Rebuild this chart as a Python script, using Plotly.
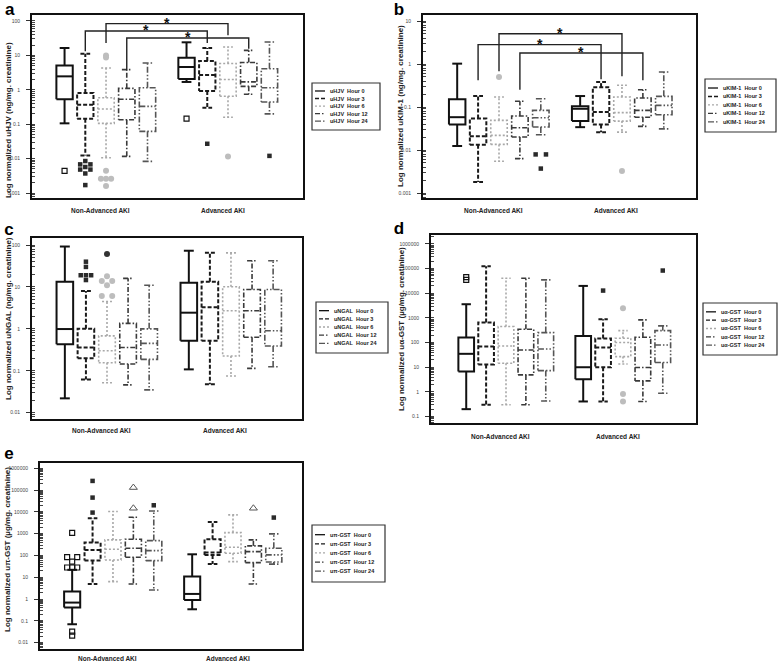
import math
import plotly.graph_objects as go

W, H = 778, 665

HOURS = ["Hour 0", "Hour 3", "Hour 6", "Hour 12", "Hour 24"]
GROUPS = ["Non-Advanced AKI", "Advanced AKI"]

# ---- Panel a: uHJV (order: Non-Adv H0,H3,H6,H12,H24, Adv H0,H3,H6,H12,H24)
HJV_LO = [0.106, 0.0124, 0.0106, 0.0116, 0.0083, 1.69, 0.30, 0.16, 0.74, 0.20]
HJV_Q1 = [0.53, 0.145, 0.106, 0.135, 0.062, 2.06, 0.92, 0.65, 1.26, 0.44]
HJV_MED = [2.46, 0.37, 0.277, 0.53, 0.33, 4.6, 2.7, 2.0, 1.7, 1.15]
HJV_Q3 = [5.1, 0.81, 0.59, 1.1, 1.15, 8.6, 6.9, 5.8, 6.2, 4.1]
HJV_HI = [16.4, 11.2, 4.3, 3.85, 6.0, 24, 16.4, 17.5, 14, 24.5]
HJV_OUT_SLOT = [0, 1, 1, 1, 1, 1, 1, 1, 1, 2, 2, 2, 2, 2, 2, 2, 5, 6, 7, 9]
HJV_OUT_VAL = [0.0044, 0.0085, 0.0068, 0.0068, 0.0057, 0.0048, 0.0048, 0.0037, 0.0017,
               10, 8.7, 0.0044, 0.0026, 0.0026, 0.0026, 0.0016, 0.145, 0.027, 0.0116, 0.012]
HJV_OUT_DX = [0, 0, -1, 1, 0, -1, 1, 0, 0, 0, 0, 0, -1, 0, 1, 0, 0, 0, 0, 0]
HJV_OUT_KIND = ["osq", "sq", "sq", "sq", "sq", "sq", "sq", "sq", "sq",
                "gc", "gc", "gc", "gc", "gc", "gc", "gc", "osq", "sq", "gc", "sq"]
HJV_BR_LEFT = [2, 1, 3]
HJV_BR_RIGHT = [7, 6, 8]
HJV_BR_TOP = [83.6, 51.3, 32.1]
HJV_BR_LEND = [22.9, 13.1, 3.68]
HJV_BR_REND = [38.3, 22.9, 15.7]
HJV_TICKS = [0.001, 0.01, 0.1, 1, 10, 100]
HJV_TICKTEXT = ["0.001", "0.01", "0.1", "1", "10", "100"]

# ---- Panel b: uKIM-1
KIM_LO = [0.0124, 0.0018, 0.0055, 0.0063, 0.0227, 0.034, 0.026, 0.026, 0.0355, 0.031]
KIM_Q1 = [0.039, 0.0133, 0.0135, 0.020, 0.0343, 0.047, 0.039, 0.047, 0.058, 0.066]
KIM_MED = [0.058, 0.0208, 0.0219, 0.033, 0.0565, 0.091, 0.0766, 0.074, 0.0836, 0.109]
KIM_Q3 = [0.151, 0.054, 0.049, 0.062, 0.0836, 0.104, 0.29, 0.171, 0.162, 0.177]
KIM_HI = [1.02, 0.18, 0.171, 0.136, 0.156, 0.18, 0.38, 0.32, 0.253, 0.65]
KIM_OUT_SLOT = [2, 4, 4, 4, 7]
KIM_OUT_VAL = [0.5, 0.0079, 0.0079, 0.0037, 0.00325]
KIM_OUT_DX = [0, -1, 1, 0, 0]
KIM_OUT_KIND = ["gc", "sq", "sq", "sq", "gc"]
KIM_BR_LEFT = [2, 1, 3]
KIM_BR_RIGHT = [7, 6, 8]
KIM_BR_TOP = [5.07, 2.82, 1.8]
KIM_BR_LEND = [0.676, 0.417, 0.253]
KIM_BR_REND = [0.516, 0.44, 0.417]
KIM_TICKS = [0.001, 0.01, 0.1, 1, 10]
KIM_TICKTEXT = ["0.001", "0.01", "0.1", "1", "10"]

# ---- Panel c: uNGAL
NGAL_LO = [0.022, 0.062, 0.052, 0.046, 0.035, 0.108, 0.048, 0.075, 0.114, 0.125]
NGAL_Q1 = [0.43, 0.2, 0.156, 0.145, 0.187, 0.52, 0.52, 0.225, 0.63, 0.39]
NGAL_MED = [0.99, 0.36, 0.3, 0.36, 0.45, 2.43, 3.26, 2.7, 2.7, 0.9]
NGAL_Q3 = [13.3, 1.0, 0.68, 1.35, 1.0, 12.6, 13.3, 10.1, 8.7, 8.7]
NGAL_HI = [92, 8.0, 4.5, 16, 11, 73, 65, 65, 42, 42]
NGAL_OUT_SLOT = [1, 1, 1, 1, 1, 1, 2, 2, 2, 2, 2, 2, 2]
NGAL_OUT_VAL = [40, 30, 19, 19, 19, 14.6, 61, 18, 13.8, 13.8, 11, 6.1, 6.1]
NGAL_OUT_DX = [0, 0, -1, 0, 1, 0, 0, 0, -1, 1, 0, -1, 1]
NGAL_OUT_KIND = ["sq", "sq", "sq", "sq", "sq", "sq", "dc", "gc", "gc", "gc", "gc", "gc", "gc"]
NGAL_TICKS = [0.01, 0.1, 1, 10, 100]
NGAL_TICKTEXT = ["0.01", "0.1", "1", "10", "100"]

# ---- Panel d: uα-GST
AGST_LO = [0.2, 0.3, 0.3, 0.3, 0.43, 0.41, 0.41, 13.6, 0.41, 0.88]
AGST_Q1 = [6.7, 13, 14.5, 4.9, 7.3, 3.27, 10, 27, 2.8, 15.5]
AGST_MED = [35, 69, 73, 50, 55, 10, 63, 100, 9.7, 80]
AGST_Q3 = [160, 650, 445, 347, 254, 186, 145, 150, 164, 306]
AGST_HI = [3580, 125000, 40500, 40500, 34700, 19800, 883, 306, 830, 474]
AGST_OUT_SLOT = [0, 0, 6, 7, 7, 7, 9]
AGST_OUT_VAL = [44600, 34600, 12800, 2470, 0.83, 0.41, 83000]
AGST_OUT_DX = [0, 0, 0, 0, 0, 0, 0]
AGST_OUT_KIND = ["osq", "osq", "sq", "gc", "gc", "gc", "sq"]
AGST_TICKS = [0.1, 1, 10, 100, 1000, 10000, 100000, 1000000]
AGST_TICKTEXT = ["0.1", "1", "10", "100", "1000", "10000", "100000", "1000000"]

# ---- Panel e: uπ-GST
PGST_LO = [0.07, 4.9, 6.3, 4.9, 2.6, 0.34, 41, 52, 4.9, 40]
PGST_Q1 = [0.41, 58, 62, 83, 58, 0.91, 106, 126, 47, 50]
PGST_MED = [0.69, 180, 193, 214, 167, 1.72, 135, 238, 150, 106]
PGST_Q3 = [2.2, 390, 516, 553, 480, 10.7, 553, 1120, 274, 214]
PGST_HI = [22, 5080, 10300, 5650, 11000, 113, 3450, 7230, 516, 973]
PGST_OUT_SLOT = [0, 0, 0, 0, 0, 0, 0, 0, 0, 1, 1, 1, 3, 3, 4, 8, 9]
PGST_OUT_VAL = [1075, 83, 83, 52, 28, 28, 28, 0.032, 0.021,
                262000, 45000, 9250, 130000, 14600, 20000, 14600, 5460]
PGST_OUT_DX = [0, -1, 1, 0, -1, 0, 1, 0, 0, 0, 0, 0, 0, 0, 0, 0, 0]
PGST_OUT_KIND = ["osq"] * 9 + ["sq", "sq", "sq", "otri", "otri", "sq", "otri", "sq"]
PGST_TICKS = [0.01, 0.1, 1, 10, 100, 1000, 10000, 100000, 1000000]
PGST_TICKTEXT = ["0.01", "0.1", "1", "10", "100", "1000", "10000", "100000", "1000000"]

# ---------------- styles / layout ----------------
FONT = "Liberation Sans, Arial, sans-serif"
STEP = 0.17          # spacing between hour boxes (group units)
HALF = 0.067         # half box width
CAP = 0.04           # half whisker-cap width
DXU = 0.042          # horizontal step of stacked outliers

HOUR_STYLE = [
    dict(color="#111111", width=2.0, dash="solid"),
    dict(color="#1a1a1a", width=2.0, dash="4px,2px"),
    dict(color="#a8a8a8", width=1.6, dash="2px,2px"),
    dict(color="#3a3a3a", width=1.6, dash="5px,2px,1.5px,2px"),
    dict(color="#555555", width=1.6, dash="6px,2px,1.5px,2px,1.5px,2px"),
]
MARKERS = {
    "osq": dict(symbol="square-open", size=5, color="#111111", line=dict(width=1.2, color="#111111")),
    "sq": dict(symbol="square", size=4.5, color="#2a2a2a"),
    "gc": dict(symbol="circle", size=6, color="#bdbdbd"),
    "dc": dict(symbol="circle", size=6, color="#333333"),
    "otri": dict(symbol="triangle-up-open", size=7, color="#555555", line=dict(width=1, color="#555555")),
}

PANELS = [
    dict(letter="a", marker="uHJV", unit="(ng/mg. creatinine)",
         lo=HJV_LO, q1=HJV_Q1, med=HJV_MED, q3=HJV_Q3, hi=HJV_HI,
         oslot=HJV_OUT_SLOT, oval=HJV_OUT_VAL, odx=HJV_OUT_DX, okind=HJV_OUT_KIND,
         brl=HJV_BR_LEFT, brr=HJV_BR_RIGHT, brt=HJV_BR_TOP, brle=HJV_BR_LEND, brre=HJV_BR_REND,
         ticks=HJV_TICKS, ticktext=HJV_TICKTEXT,
         box=(32, 303, 15, 198), xr=(-0.607, 1.615), yr=(-3.145, 2.174),
         leg=(312, 83, 380, 130), letter_xy=(10, 9), title_xy=(8, 120), xlab_y=210),
    dict(letter="b", marker="uKIM-1", unit="(ng/mg. creatinine)",
         lo=KIM_LO, q1=KIM_Q1, med=KIM_MED, q3=KIM_Q3, hi=KIM_HI,
         oslot=KIM_OUT_SLOT, oval=KIM_OUT_VAL, odx=KIM_OUT_DX, okind=KIM_OUT_KIND,
         brl=KIM_BR_LEFT, brr=KIM_BR_RIGHT, brt=KIM_BR_TOP, brle=KIM_BR_LEND, brre=KIM_BR_REND,
         ticks=KIM_TICKS, ticktext=KIM_TICKTEXT,
         box=(423, 696, 15, 198), xr=(-0.618, 1.602), yr=(-3.116, 1.14),
         leg=(705, 79, 776, 132), letter_xy=(399, 9), title_xy=(400, 106), xlab_y=211),
    dict(letter="c", marker="uNGAL", unit="(ng/mg. creatinine)",
         lo=NGAL_LO, q1=NGAL_Q1, med=NGAL_MED, q3=NGAL_Q3, hi=NGAL_HI,
         oslot=NGAL_OUT_SLOT, oval=NGAL_OUT_VAL, odx=NGAL_OUT_DX, okind=NGAL_OUT_KIND,
         brl=[], brr=[], brt=[], brle=[], brre=[],
         ticks=NGAL_TICKS, ticktext=NGAL_TICKTEXT,
         box=(32, 302, 238, 419), xr=(-0.605, 1.573), yr=(-2.15, 2.167),
         leg=(316, 302, 388, 353), letter_xy=(9, 229), title_xy=(8, 319), xlab_y=431),
    dict(letter="d", marker="uα-GST", unit="(µg/mg. creatinine)",
         lo=AGST_LO, q1=AGST_Q1, med=AGST_MED, q3=AGST_Q3, hi=AGST_HI,
         oslot=AGST_OUT_SLOT, oval=AGST_OUT_VAL, odx=AGST_OUT_DX, okind=AGST_OUT_KIND,
         brl=[], brr=[], brt=[], brle=[], brre=[],
         ticks=AGST_TICKS, ticktext=AGST_TICKTEXT,
         box=(431, 696, 235, 423), xr=(-0.641, 1.624), yr=(-1.26, 6.36),
         leg=(703, 303, 777, 355), letter_xy=(399, 228), title_xy=(401, 329), xlab_y=436),
    dict(letter="e", marker="uπ-GST", unit="(µg/mg. creatinine)",
         lo=PGST_LO, q1=PGST_Q1, med=PGST_MED, q3=PGST_Q3, hi=PGST_HI,
         oslot=PGST_OUT_SLOT, oval=PGST_OUT_VAL, odx=PGST_OUT_DX, okind=PGST_OUT_KIND,
         brl=[], brr=[], brt=[], brle=[], brre=[],
         ticks=PGST_TICKS, ticktext=PGST_TICKTEXT,
         box=(40, 302, 463, 649), xr=(-0.608, 1.575), yr=(-2.29, 6.24),
         leg=(312, 525, 385, 582), letter_xy=(9, 453), title_xy=(7, 550), xlab_y=658),
]


def fx(px):
    return px / W


def fy(py):
    return 1 - py / H


def slot_x(s):
    g, h = divmod(s, 5)
    return g + (h - 2) * STEP


fig = go.Figure()
layout = dict(width=W, height=H, margin=dict(l=0, r=0, t=0, b=0),
              paper_bgcolor="white", plot_bgcolor="white", showlegend=False,
              font=dict(family=FONT, color="#222"))
annotations = []
shapes = []

for i, p in enumerate(PANELS):
    n = "" if i == 0 else str(i + 1)
    xa, ya = "x" + n, "y" + n
    x0, x1, y0, y1 = p["box"]
    layout["xaxis" + n] = dict(domain=[fx(x0), fx(x1)], anchor=ya, range=list(p["xr"]),
                               showgrid=False, zeroline=False, showticklabels=False, ticks="",
                               showline=True, mirror=True, linecolor="#111", linewidth=2)
    layout["yaxis" + n] = dict(domain=[fy(y1), fy(y0)], anchor=xa, type="log", range=list(p["yr"]),
                               showgrid=False, zeroline=False, tickmode="array",
                               tickvals=p["ticks"], ticktext=p["ticktext"],
                               ticks="outside", ticklen=4, tickwidth=1, tickcolor="#333",
                               ticklabelstandoff=5,
                               tickfont=dict(size=5, color="#444", family=FONT),
                               minor=dict(ticks="inside", ticklen=2.5, tickwidth=0.8,
                                          tickcolor="#444", dtick="D1"),
                               showline=True, mirror=True, linecolor="#111", linewidth=2)

    # boxes, one trace per hour
    for h in range(5):
        st = HOUR_STYLE[h]
        xs, ys = [], []
        for g in range(2):
            s = g * 5 + h
            xc = slot_x(s)
            lo, q1, md, q3, hi = p["lo"][s], p["q1"][s], p["med"][s], p["q3"][s], p["hi"][s]
            xs += [xc - HALF, xc + HALF, xc + HALF, xc - HALF, xc - HALF, None]
            ys += [q1, q1, q3, q3, q1, None]
            xs += [xc - HALF, xc + HALF, None]
            ys += [md, md, None]
            xs += [xc, xc, None, xc - CAP, xc + CAP, None]
            ys += [q3, hi, None, hi, hi, None]
            xs += [xc, xc, None, xc - CAP, xc + CAP, None]
            ys += [q1, lo, None, lo, lo, None]
        fig.add_trace(go.Scatter(x=xs, y=ys, mode="lines", xaxis=xa, yaxis=ya,
                                 name=f"{p['marker']} {HOURS[h]}", hoverinfo="skip",
                                 line=dict(color=st["color"], width=st["width"], dash=st["dash"])))

    # outliers
    for kind in MARKERS:
        idx = [k for k, kk in enumerate(p["okind"]) if kk == kind]
        if not idx:
            continue
        fig.add_trace(go.Scatter(
            x=[slot_x(p["oslot"][k]) + p["odx"][k] * DXU for k in idx],
            y=[p["oval"][k] for k in idx], mode="markers", xaxis=xa, yaxis=ya,
            marker=MARKERS[kind], hoverinfo="skip"))

    # significance brackets
    for b in range(len(p["brl"])):
        xl, xr_ = slot_x(p["brl"][b]), slot_x(p["brr"][b])
        fig.add_trace(go.Scatter(x=[xl, xl, xr_, xr_], y=[p["brle"][b], p["brt"][b], p["brt"][b], p["brre"][b]],
                                 mode="lines", xaxis=xa, yaxis=ya, hoverinfo="skip",
                                 line=dict(color="#222", width=1.4)))
        annotations.append(dict(x=(xl + xr_) / 2, y=math.log10(p["brt"][b]), xref=xa, yref=ya,
                                text="<b>*</b>", showarrow=False, yanchor="middle", yshift=1,
                                font=dict(size=14, color="#111", family=FONT)))

    # group labels
    for g, lab in enumerate(GROUPS):
        annotations.append(dict(x=g - 0.045, y=fy(p["xlab_y"]), xref=xa, yref="paper",
                                text=f"<b>{lab}</b>", showarrow=False, yanchor="middle",
                                font=dict(size=6.5, color="#222", family=FONT)))

    # y-axis title
    tx, ty = p["title_xy"]
    annotations.append(dict(x=fx(tx), y=fy(ty), xref="paper", yref="paper", textangle=-90,
                            text=f"<b>Log normalized {p['marker']} {p['unit']}</b>", showarrow=False,
                            xanchor="center", yanchor="middle",
                            font=dict(size=8, color="#222", family=FONT)))

    # panel letter
    lx, ly = p["letter_xy"]
    annotations.append(dict(x=fx(lx), y=fy(ly), xref="paper", yref="paper", text=f"<b>{p['letter']}</b>",
                            showarrow=False, xanchor="center", yanchor="middle", height=13, width=12,
                            borderpad=0,
                            font=dict(size=17, color="#000", family=FONT)))

    # legend box (drawn)
    lx0, ly0, lx1, ly1 = p["leg"]
    shapes.append(dict(type="rect", xref="paper", yref="paper", x0=fx(lx0), x1=fx(lx1),
                       y0=fy(ly1), y1=fy(ly0), line=dict(color="#333", width=1.2),
                       fillcolor="white", layer="above"))
    lh = ly1 - ly0
    for h in range(5):
        st = HOUR_STYLE[h]
        ry = ly0 + lh * (0.17 + 0.16 * h)
        shapes.append(dict(type="line", xref="paper", yref="paper", x0=fx(lx0 + 3), x1=fx(lx0 + 13),
                           y0=fy(ry), y1=fy(ry), layer="above",
                           line=dict(color=st["color"], width=1.3, dash=st["dash"])))
        annotations.append(dict(x=fx(lx0 + 16), y=fy(ry), xref="paper", yref="paper",
                                text=f"<b>{p['marker']}\u00a0\u00a0{HOURS[h]}</b>", showarrow=False,
                                xanchor="left", yanchor="middle",
                                font=dict(size=5.5, color="#222", family=FONT)))

layout["annotations"] = annotations
layout["shapes"] = shapes
fig.update_layout(**layout)
fig.write_html("out.html", config={"displayModeBar": False},
               post_script="document.body.style.margin='0';document.body.style.padding='0';")
